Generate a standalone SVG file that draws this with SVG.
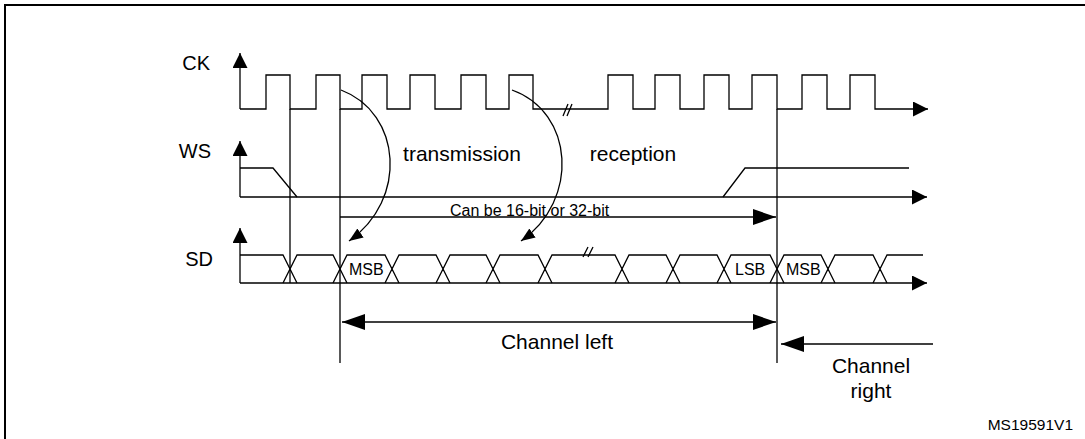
<svg xmlns="http://www.w3.org/2000/svg" width="1085" height="439" viewBox="0 0 1085 439">
<style>
  .ln{fill:none;stroke:#000;stroke-width:1.3}
  .txt{font-family:"Liberation Sans",Arial,sans-serif;fill:#000}
  .lbl{font-size:20px}
  .big{font-size:21px}
  .sm{font-size:16px}
</style>
<defs>
  <marker id="ax" markerUnits="userSpaceOnUse" markerWidth="15" markerHeight="15" viewBox="0 0 15 15" refX="15" refY="7.5" orient="auto">
    <path d="M0,0 L15,7.5 L0,15 Z" fill="#000"/>
  </marker>
  <marker id="dim" markerUnits="userSpaceOnUse" markerWidth="23" markerHeight="16" viewBox="0 0 23 16" refX="23" refY="8" orient="auto-start-reverse">
    <path d="M0,0 L23,8 L0,16 Z" fill="#000"/>
  </marker>
  <marker id="cv" markerUnits="userSpaceOnUse" markerWidth="14" markerHeight="11" viewBox="0 0 14 11" refX="14" refY="5.5" orient="auto">
    <path d="M0,0 L14,5.5 L0,11 Z" fill="#000"/>
  </marker>
</defs>
<rect width="1085" height="439" fill="#fff"/>
<g id="frame">
  <rect x="5" y="5" width="1095" height="450" fill="none" stroke="#000" stroke-width="2"/>
</g>
<g id="signal-labels" class="txt lbl">
  <text x="210" y="70" text-anchor="end">CK</text>
  <text x="211" y="158" text-anchor="end">WS</text>
  <text x="213" y="266" text-anchor="end">SD</text>
</g>
<g id="ck">
  <path class="ln" d="M240,109 V53" marker-end="url(#ax)"/>
  <path class="ln" d="M240,109 H266 V75 H290 V109 H316 V75 H340 V109 H362 V75 H387 V109 H410 V75 H435 V109 H461 V75 H486 V109 H509 V75 H533 V109 H608 V75 H633 V109 H655 V75 H680 V109 H704 V75 H729 V109 H752 V75 H777 V109 H802 V75 H827 V109 H850 V75 H875 V109 H928" marker-end="url(#ax)"/>
  <path class="ln" d="M563,116 L568,104 M567,116 L572,104"/>
</g>
<g id="ws">
  <path class="ln" d="M240,197 V141" marker-end="url(#ax)"/>
  <path class="ln" d="M240,197 H927" marker-end="url(#ax)"/>
  <path class="ln" d="M240,168 H273 L297,197"/>
  <path class="ln" d="M723,197 L745,168 H909"/>
</g>
<g id="sd">
  <path class="ln" d="M240,283 V228" marker-end="url(#ax)"/>
  <path class="ln" d="M240,283 H927" marker-end="url(#ax)"/>
  <path class="ln" d="M240,255 H283 L297,283 M283,283 L297,255 H333 L347,283 M333,283 L347,255 H385 L399,283 M385,283 L399,255 H436 L450,283 M436,283 L450,255 H486 L500,283 M486,283 L500,255 H538 L552,283 M538,283 L552,255 H615 L629,283 M615,283 L629,255 H666 L680,283 M666,283 L680,255 H717 L731,283 M717,283 L731,255 H770 L784,283 M770,283 L784,255 H821 L835,283 M821,283 L835,255 H873 L887,283 M873,283 L887,255 H923"/>
  <path class="ln" d="M583,257 L588,247 M588,257 L593,247"/>
  <g class="txt sm">
    <text x="349" y="275">MSB</text>
    <text x="735" y="275">LSB</text>
    <text x="786" y="275">MSB</text>
  </g>
</g>
<g id="connectors">
  <path class="ln" d="M290,109 V283"/>
  <path class="ln" d="M340,109 V363"/>
  <path class="ln" d="M777,109 V363"/>
  <path class="ln" d="M341,90 C402,113 408,200 349,241" marker-end="url(#cv)"/>
  <path class="ln" d="M512,90 C574,112 580,200 521,241" marker-end="url(#cv)"/>
  <path class="ln" d="M340,217 H776" marker-end="url(#dim)"/>
  <path class="ln" d="M342,322 H776" marker-start="url(#dim)" marker-end="url(#dim)"/>
  <path class="ln" d="M933,344 H781" marker-end="url(#dim)"/>
</g>
<g id="annotations" class="txt">
  <text class="big" x="462" y="161" text-anchor="middle">transmission</text>
  <text class="big" x="633" y="161" text-anchor="middle">reception</text>
  <text class="sm" x="450" y="216">Can be 16-bit or 32-bit</text>
  <text class="big" x="557" y="349" text-anchor="middle">Channel left</text>
  <text class="big" x="871" y="373" text-anchor="middle">Channel</text>
  <text class="big" x="871" y="398" text-anchor="middle">right</text>
  <text x="1073" y="430" text-anchor="end" font-size="15.5">MS19591V1</text>
</g>
</svg>
